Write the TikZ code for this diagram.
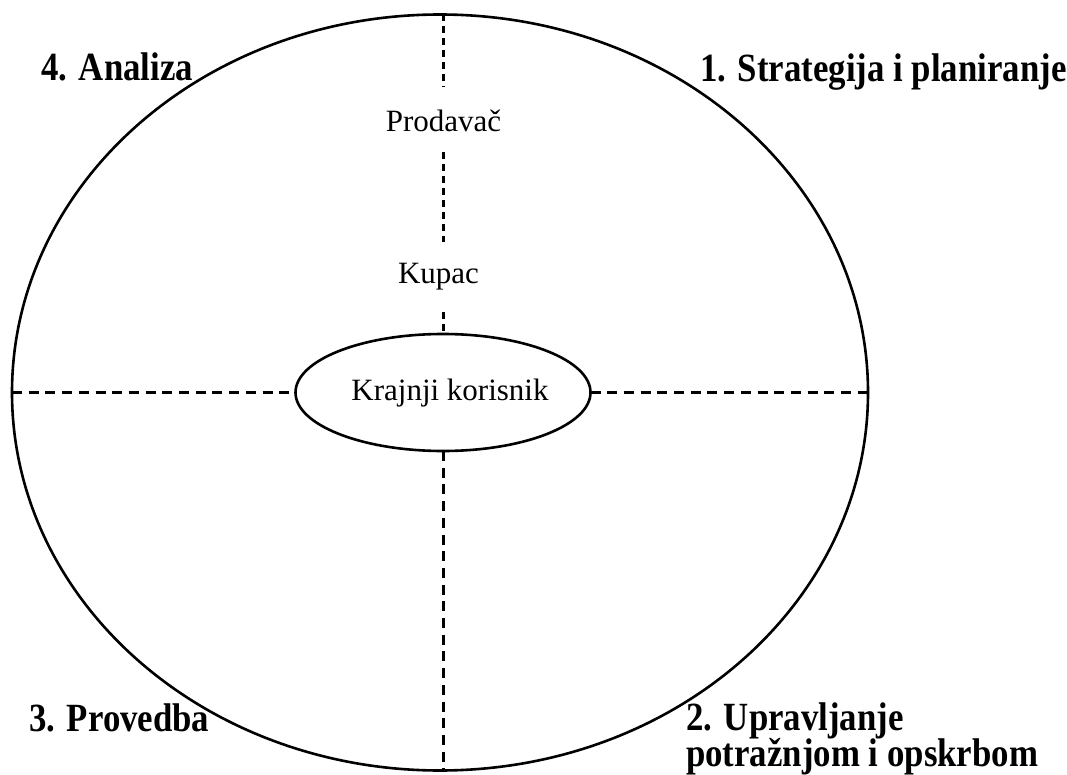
\documentclass[tikz,border=0pt]{standalone}
\usepackage{fontspec}
\setmainfont{Liberation Serif}
\usetikzlibrary{shapes.geometric}
\newcommand\blab[1]{\scalebox{1}[1.15]{\fontsize{34.8}{40}\selectfont\bfseries #1}}
\begin{document}
\begin{tikzpicture}[x=1pt,y=-1pt,
  ring/.style={draw, ellipse, inner sep=0pt, outer sep=0pt, line width=2.6pt},
  lab/.style={inner sep=0pt, anchor=base west},
  txt/.style={inner sep=0pt, anchor=base, font=\fontsize{31}{36}\selectfont, text height=22pt, text depth=7pt},
  hdash/.style={line width=3pt, dash pattern=on 10pt off 6.7pt},
  tdash/.style={line width=3pt, dash pattern=on 7pt off 5pt}]
\useasboundingbox (0,0) rectangle (1067,775);
\node[ring, minimum width=856pt, minimum height=756pt] (outer) at (440,392.5) {};
\node[ring, minimum width=295pt, minimum height=117pt] (inner) at (443,392.5) {};
\node[txt] (prod) at (443.5,131.7) {Prodavač};
\node[txt] (kup) at (438.5,283.3) {Kupac};
\node[txt] (kk) at (450,400) {Krajnji korisnik};
% connectors
\draw[tdash, shorten >=22.7pt] (outer.north -| inner.north) -- (inner.north |- prod.north);
\draw[tdash, shorten <=13.3pt, shorten >=19.3pt] (inner.north |- prod.south) -- (inner.north |- kup.north);
\draw[tdash, shorten <=21.7pt] (inner.north |- kup.south) -- (inner.north);
\draw[hdash] (outer.west) -- (inner.west);
\draw[hdash] (inner.east) -- (outer.east);
\draw[hdash] (inner.south) -- (outer.south -| inner.south);
% labels
\node[lab] (l4) at (41,81) {\blab{4. Analiza}};
\node[lab] (l1) at (700,81.5) {\blab{1. Strategija i planiranje}};
\node[lab] (l3) at (29,731.5) {\blab{3. Provedba}};
\node[lab] (l2) at (686,766) {\blab{\vbox{\baselineskip=30.7pt\lineskiplimit=-1000pt\lineskip=0pt
  \hbox{2. Upravljanje}\hbox{potražnjom i opskrbom}}}};
\end{tikzpicture}
\end{document}
